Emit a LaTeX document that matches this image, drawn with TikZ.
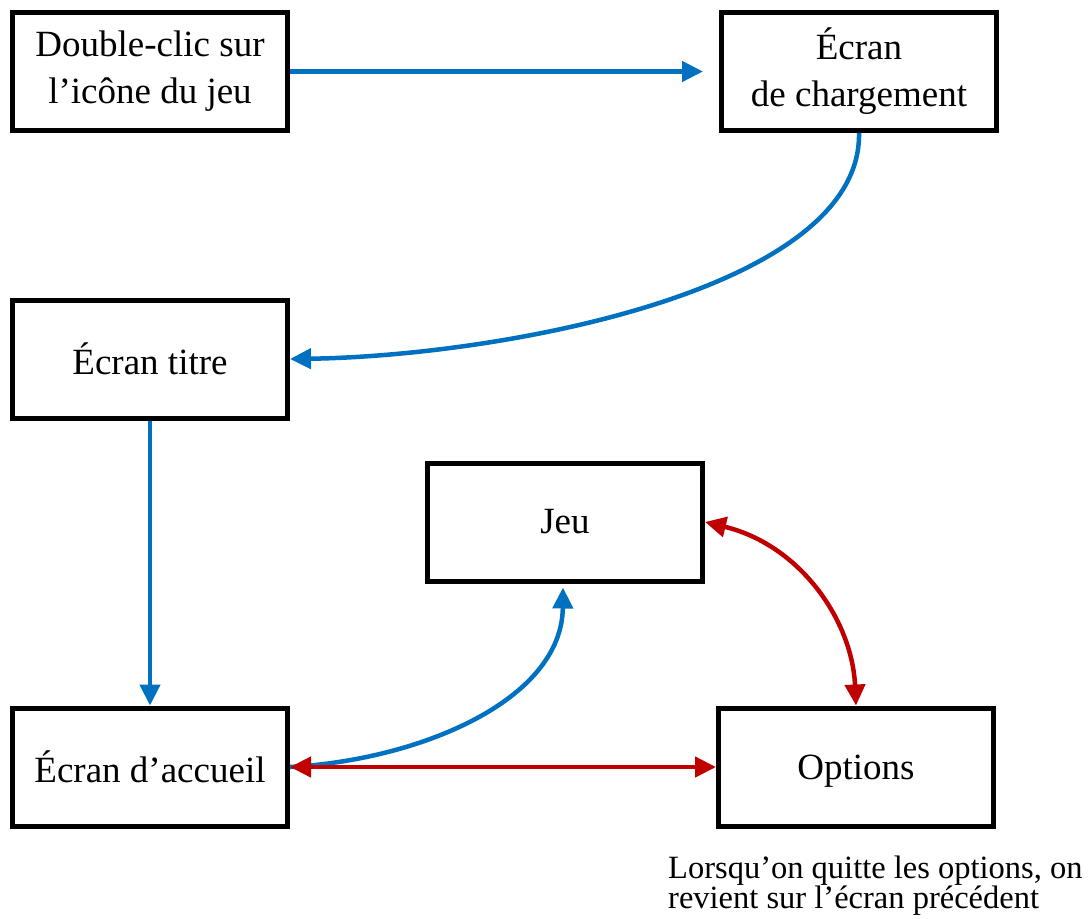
\documentclass[tikz,border=0pt]{standalone}
\usepackage{fontspec}
\setmainfont{Liberation Serif}
\usetikzlibrary{arrows.meta,calc}
\definecolor{flowblue}{RGB}{0,112,192}
\definecolor{flowred}{RGB}{192,0,0}
\begin{document}
\begin{tikzpicture}[x=1pt,y=-1pt,
  screen/.style={draw=black, line width=5pt, fill=white, minimum width=275pt,
    minimum height=118pt, align=center, inner sep=0pt,
    font=\fontsize{37}{47}\selectfont},
  bluelink/.style={draw=flowblue, line width=4.5pt,
    -{Triangle[length=21pt,width=20pt]}},
  redlink/.style={draw=flowred, line width=4.5pt,
    {Triangle[length=21pt,width=20pt]}-{Triangle[length=21pt,width=20pt]}}]
  \useasboundingbox (0,0) rectangle (1089,918);

  % screens of the game
  \node[screen] (clic)    at (150,71.5) {Double-clic sur\\l’icône du jeu};
  \node[screen] (charge)  at (859,71.5) {Écran\\de chargement};
  \node[screen] (titre)   at (150,359)  {Écran titre};
  \node[screen] (jeu)     at (565,522)  {Jeu};
  \node[screen] (accueil) at (150,767)  {Écran d’accueil};
  \node[screen, text depth=0pt] (options) at (856,767) {Options};

  % note under the options screen
  \node[anchor=north west, align=left, inner sep=0pt,
        font=\fontsize{32.5}{30}\selectfont] (note) at (668,856)
        {Lorsqu’on quitte les options, on\\revient sur l’écran précédent};

  % forward path
  \draw[bluelink] (clic.east) -- ($(charge.west)+(-16,0)$);
  \draw[bluelink] (charge.south) .. controls (862,290) and (500,356) .. (titre.east);
  \draw[bluelink] (titre.south) -- (accueil.north);
  \draw[bluelink] (accueil.east) .. controls (420,760) and (562,700) .. ($(jeu.south)+(-2,4)$);

  % two-way links with the options
  \draw[redlink] (accueil.east) -- (options.west);
  \draw[redlink] (jeu.east) .. controls (800,545) and (852,620) .. (options.north);
\end{tikzpicture}
\end{document}
